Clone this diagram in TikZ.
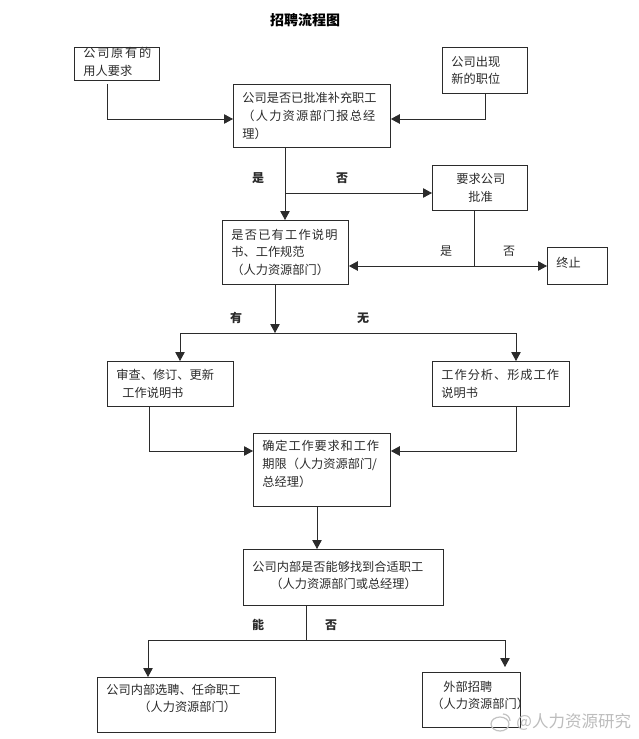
\documentclass[tikz,border=0pt]{standalone}
\usepackage{fontspec}
\setmainfont{Noto Sans CJK SC}
\usetikzlibrary{arrows.meta}
\newcommand{\wide}[2]{{\addfontfeature{LetterSpace=#1}#2}}
\newcommand{\drop}[1]{\rule[-#1pt]{0pt}{0pt}}
\definecolor{ink}{HTML}{2B2B2B}

\begin{document}
\begin{tikzpicture}[x=1pt,y=-1pt,->,>={Triangle[length=9pt,width=9.5pt]},
    line width=0.85pt,draw=ink,
    box/.style 2 args={draw=ink,anchor=north west,align=left,text=ink,
      font=\fontsize{12.2}{17.6}\selectfont,inner xsep=9pt,inner ysep=0pt,
      text width=#1pt-18pt,minimum height=#2pt},
    answer/.style={text=ink,inner sep=0pt,font=\fontsize{12}{14}\selectfont},
    boldanswer/.style={answer,font=\fontsize{12}{14}\selectfont\bfseries}]
  \useasboundingbox (0,0) rectangle (639,739);
  \fill[white] (0,0) rectangle (639,739);
  \node[text=black,inner sep=0pt,font=\fontsize{14}{16}\selectfont\bfseries] (title) at (305,20) {招聘流程图};

  % boxes
  \node[box={85}{33}] (need) at (74,47) {\wide{14}{公司原有的}\\用人要求\drop{5}};
  \node[box={85}{46}] (newpost) at (442,47) {公司出现\\新的职位};
  \node[box={157}{63}] (approved) at (233,84) {公司是否已批准补充职工\\\wide{10}{（人力资源部门报总经}\\理）};
  \node[box={95}{45}] (askcompany) at (432,165) {\hspace*{15pt}要求公司\\\hspace*{27pt}批准};
  \node[box={126}{64}] (hasspec) at (222,220) {\wide{10}{是否已有工作说明}\\书、工作规范\\（人力资源部门）};
  \node[box={60}{37}] (stop) at (547,247) {终止\drop{8}};
  \node[box={126}{45}] (review) at (107,361) {审查、修订、更新\\\hspace*{6pt}工作说明书};
  \node[box={137}{45}] (analyse) at (432,361) {\wide{8}{工作分析、形成工作}\\说明书};
  \node[box={137}{73}] (define) at (253,433) {\wide{7}{确定工作要求和工作}\\期限（人力资源部门/\\总经理）\drop{13}};
  \node[box={200}{56}] (inside) at (243,549) {公司内部是否能够找到合适职工\\\hspace*{18pt}（人力资源部门或总经理）\drop{5}};
  \node[box={178}{55}] (select) at (97,677) {公司内部选聘、任命职工\\\hspace*{32pt}（人力资源部门）\drop{14}};
  \node[box={98}{55}] (outside) at (422,672) {\hspace*{12pt}外部招聘\\（人力资源部门）\drop{10}};

  % branch points
  \coordinate (j1) at (107,119);
  \coordinate (j2) at (485,119);
  \coordinate (j3) at (285,193);
  \coordinate (j4) at (474,266);
  \coordinate (j5) at (275,333);
  \coordinate (j6) at (180,333);
  \coordinate (j7) at (516,333);
  \coordinate (j8) at (149,451);
  \coordinate (j9) at (516,451);
  \coordinate (j10) at (306,640);
  \coordinate (j11) at (148,640);
  \coordinate (j12) at (505,640);
  \coordinate (j13) at (317,520);

  % connectors
  \draw[shorten <=3pt] (need.south -| j1) -- (j1) -- (approved.west |- j1);
  \draw (newpost.south -| j2) -- (j2) -- (approved.east |- j2);
  \draw (approved.south -| j3) -- (hasspec.north -| j3);
  \draw (j3) -- (askcompany.west |- j3);
  \draw[-] (askcompany.south -| j4) -- (j4);
  \draw[<->] (hasspec.east |- j4) -- (stop.west |- j4);
  \draw (hasspec.south -| j5) -- (j5);
  \draw (j6) -- (review.north -| j6);
  \draw (j7) -- (analyse.north -| j7);
  \draw[-] (j6) -- (j7);
  \draw (review.south -| j8) -- (j8) -- (define.west |- j8);
  \draw (analyse.south -| j9) -- (j9) -- (define.east |- j9);
  \draw (define.south -| j13) -- (inside.north -| j13);
  \draw[-] (inside.south -| j10) -- (j10);
  \draw (j10) -- (j11) -- (select.north -| j11);
  \draw[shorten >=5pt] (j10) -- (j12) -- (outside.north -| j12);

  % labels
  \node[boldanswer] (yes1) at (258,178) {是};
  \node[boldanswer] (no1) at (342,178) {否};
  \node[answer] (yes2) at (446,251) {是};
  \node[answer] (no2) at (509,251) {否};
  \node[boldanswer] (has) at (236,318) {有};
  \node[boldanswer] (none) at (363,318) {无};
  \node[boldanswer] (can) at (258,625) {能};
  \node[boldanswer] (no3) at (331,625) {否};

  % watermark
  \draw[-,draw=black!24,line width=1.2pt] (500,724) ellipse (9 and 7);
  \draw[-,draw=black!24,line width=1.2pt] (503,714) arc (-90:0:7);
  \node[text=black!26,inner sep=0pt,anchor=west,font=\fontsize{16.5}{18}\selectfont] (mark) at (516,722) {@人力资源研究};
\end{tikzpicture}
\end{document}
